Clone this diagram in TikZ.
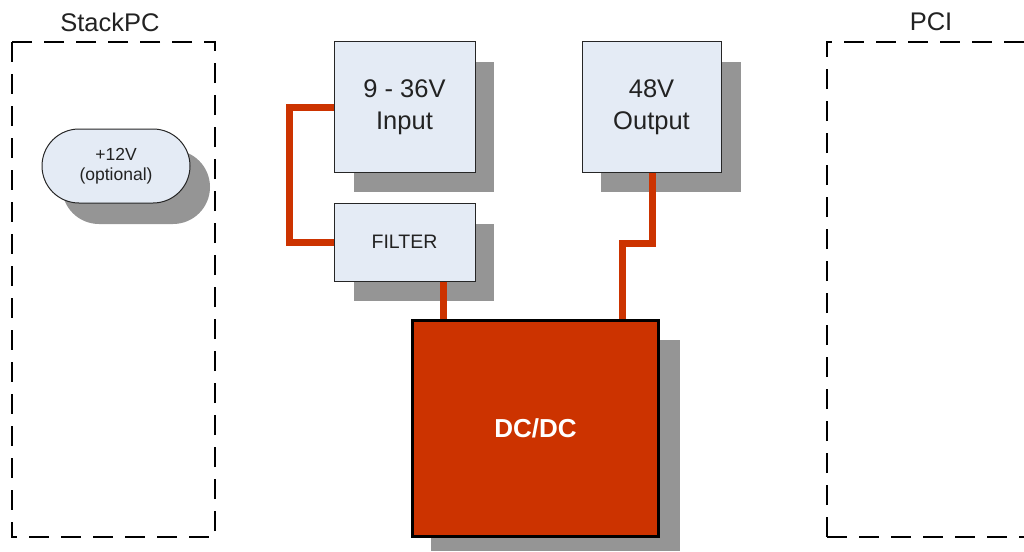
\documentclass[tikz,border=0pt]{standalone}
\usepackage{fontspec}
\setmainfont{Liberation Sans}
\usetikzlibrary{shapes.misc}
\definecolor{boxfill}{HTML}{E4EBF5}
\definecolor{shadowgray}{HTML}{959595}
\definecolor{wirered}{HTML}{CC3300}
\definecolor{txt}{HTML}{222222}
\begin{document}
\begin{tikzpicture}[x=1pt,y=-1pt,
  region/.style={draw=black,line width=2.6pt,dash pattern=on 20pt off 12pt},
  block/.style={draw=black!85,line width=1pt,fill=boxfill,text=txt,align=center,inner sep=0pt},
  wire/.style={draw=wirered,line width=7pt,line join=miter},
  lbl/.style={text=txt,font=\fontsize{25.5}{28}\selectfont}]
\useasboundingbox (0,0) rectangle (1024,551);
% regions
\draw[region] (12,42) rectangle (215,537);
\node[lbl] (stacklbl) at (110,22) {StackPC};
\draw[region] (827,537) -- (827,42) -- (1040,42);
\draw[region] (827,537) -- (1040,537);
\node[lbl] (pcilbl) at (931,22) {PCI};
% shadows
\fill[shadowgray,rounded corners=37pt] (62,150) rectangle (210,224);
\fill[shadowgray] (354,62) rectangle (494,192);
\fill[shadowgray] (354,224) rectangle (494,301);
\fill[shadowgray] (601,62) rectangle (741,192);
\fill[shadowgray] (431,340) rectangle (680,551);
% blocks
\node[block,rounded rectangle,minimum width=148pt,minimum height=74pt,font=\fontsize{17.5}{20}\selectfont] (v12) at (116,166) {+12V\\(optional)};
\node[block,minimum width=141pt,minimum height=130pt,font=\fontsize{25.5}{32}\selectfont] (inp) at (404.5,107) {9 - 36V\\Input};
\node[block,minimum width=141pt,minimum height=78pt,font=\fontsize{19.5}{22}\selectfont] (filt) at (404.5,242) {FILTER};
\node[block,minimum width=139pt,minimum height=130pt,font=\fontsize{25.5}{32}\selectfont] (outp) at (651.5,107) {48V\\Output};
% dc/dc
\node[draw=black,line width=2.2pt,fill=wirered,minimum width=246pt,minimum height=216pt,inner sep=0pt,text=white,font=\bfseries\fontsize{26}{30}\selectfont] (dcdc) at (535.5,428.5) {DC/DC};
% wires
\draw[wire] (inp.west) -- ++(-44,0) |- (filt.west);
\draw[wire] (443,0 |- filt.south) -- (443,0 |- dcdc.north);
\draw[wire] (652,0 |- outp.south) -- (652,243) -- (622,243) -- (622,0 |- dcdc.north);
\end{tikzpicture}
\end{document}
